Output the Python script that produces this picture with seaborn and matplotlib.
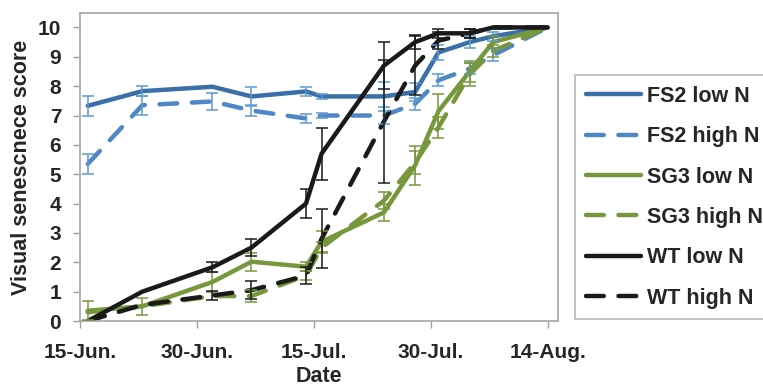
import numpy as np
import pandas as pd
import matplotlib.pyplot as plt
import seaborn as sns

dates = pd.to_datetime(["2013-06-16", "2013-06-23", "2013-07-02", "2013-07-07", "2013-07-14", "2013-07-16",
                        "2013-07-24", "2013-07-28", "2013-07-31", "2013-08-04", "2013-08-07", "2013-08-14"])

fs2_low = [7.33, 7.83, 7.98, 7.65, 7.82, 7.65, 7.65, 7.8, 9.15, 9.5, 9.7, 10]
fs2_low_err = [0.35, 0.17, 0.0, 0.33, 0.15, 0.1, 0.5, 0.3, 0.25, 0.2, 0.15, 0]
fs2_high = [5.35, 7.35, 7.48, 7.17, 6.9, 7.0, 7.0, 7.4, 8.2, 8.6, 9.05, 10]
fs2_high_err = [0.33, 0.33, 0.3, 0.2, 0.15, 0.1, 0.3, 0.2, 0.2, 0.2, 0.2, 0]
sg3_low = [0.35, 0.5, 1.33, 2.02, 1.85, 2.7, 3.7, 5.3, 7.15, 8.5, 9.5, 10]
sg3_low_err = [0.33, 0.3, 0.35, 0.3, 0.15, 0.35, 0.3, 0.65, 0.6, 0.35, 0.2, 0]
sg3_high = [0.3, 0.5, 0.85, 0.85, 1.55, 2.5, 4.1, 5.4, 6.6, 8.4, 9.2, 10]
sg3_high_err = [0.0, 0.0, 0.0, 0.2, 0.15, 0.2, 0.3, 0.4, 0.35, 0.4, 0.2, 0]
wt_low = [0, 1.0, 1.83, 2.5, 4.0, 5.7, 8.7, 9.5, 9.8, 9.8, 10, 10]
wt_low_err = [0, 0, 0.17, 0.3, 0.5, 0.88, 0.8, 0.25, 0.15, 0.15, 0, 0]
wt_high = [0, 0.55, 0.87, 1.05, 1.55, 2.8, 6.8, 8.7, 9.55, 9.8, 10, 10]
wt_high_err = [0, 0, 0.15, 0.3, 0.3, 1.0, 2.1, 1.0, 0.3, 0.15, 0, 0]

tick_dates = pd.to_datetime(["2013-06-15", "2013-06-30", "2013-07-15", "2013-07-30", "2013-08-14"])
tick_labels = ["15-Jun.", "30-Jun.", "15-Jul.", "30-Jul.", "14-Aug."]

series = [
    ("FS2 low N", fs2_low, fs2_low_err, "#3a6fa8", "#5b9bd5", "-"),
    ("FS2 high N", fs2_high, fs2_high_err, "#4f87c6", "#5b9bd5", "--"),
    ("SG3 low N", sg3_low, sg3_low_err, "#77973d", "#77973d", "-"),
    ("SG3 high N", sg3_high, sg3_high_err, "#77973d", "#77973d", "--"),
    ("WT low N", wt_low, wt_low_err, "#1a1a1a", "#1a1a1a", "-"),
    ("WT high N", wt_high, wt_high_err, "#1a1a1a", "#1a1a1a", "--"),
]

sns.set_style("white")
plt.rcParams["font.family"] = ["Liberation Sans", "DejaVu Sans"]
plt.rcParams["font.weight"] = "bold"

fig = plt.figure(figsize=(7.63, 3.87), dpi=100)
ax = fig.add_axes([0.1048, 0.1705, 0.6265, 0.7965])

for label, vals, err, color, ecolor, ls in series:
    line_kw = dict(lw=3.2, solid_capstyle="round")
    if ls == "--":
        line_kw.update(dashes=(4, 3.3), dash_capstyle="round")
    sns.lineplot(x=dates, y=vals, ax=ax, color=color, label=label, **line_kw)
for label, vals, err, color, ecolor, ls in series:
    err = np.array(err)
    m = err > 0
    ax.errorbar(dates[m], np.array(vals)[m], yerr=err[m], fmt="none", ecolor=ecolor,
                elinewidth=1.1, capsize=4, capthick=1.1, zorder=5)

ax.set_xlim(pd.Timestamp("2013-06-15"), pd.Timestamp("2013-08-15 08:00"))
ax.set_ylim(0, 10.5)
ax.set_yticks(range(0, 11))
ax.set_xticks(tick_dates)
ax.set_xticklabels(tick_labels)
ax.tick_params(axis="both", labelsize=15, length=5, width=1, color="#a0a0a0", direction="out",
               bottom=True, left=True)
ax.tick_params(axis="x", pad=11)
ax.tick_params(axis="y", pad=8.5)
for s in ax.spines.values():
    s.set_color("#a6a6a6")
    s.set_linewidth(1.2)
ax.set_xlabel("Date", fontsize=15.5, fontweight="bold", labelpad=3)
ax.set_ylabel("Visual senescnece score", fontsize=15.5, fontweight="bold", labelpad=4)

handles, labels = ax.get_legend_handles_labels()
ax.get_legend().remove()
leg = fig.legend(handles, labels, loc="upper left", bbox_to_anchor=(0.7536, 0.806),
                 borderaxespad=0, fontsize=15.5, frameon=True, fancybox=False, edgecolor="#a6a6a6",
                 handlelength=2.55, labelspacing=0.9, borderpad=0.5, handletextpad=0.3)
leg.get_frame().set_linewidth(1.2)

fig.savefig("out.png", dpi=100)
